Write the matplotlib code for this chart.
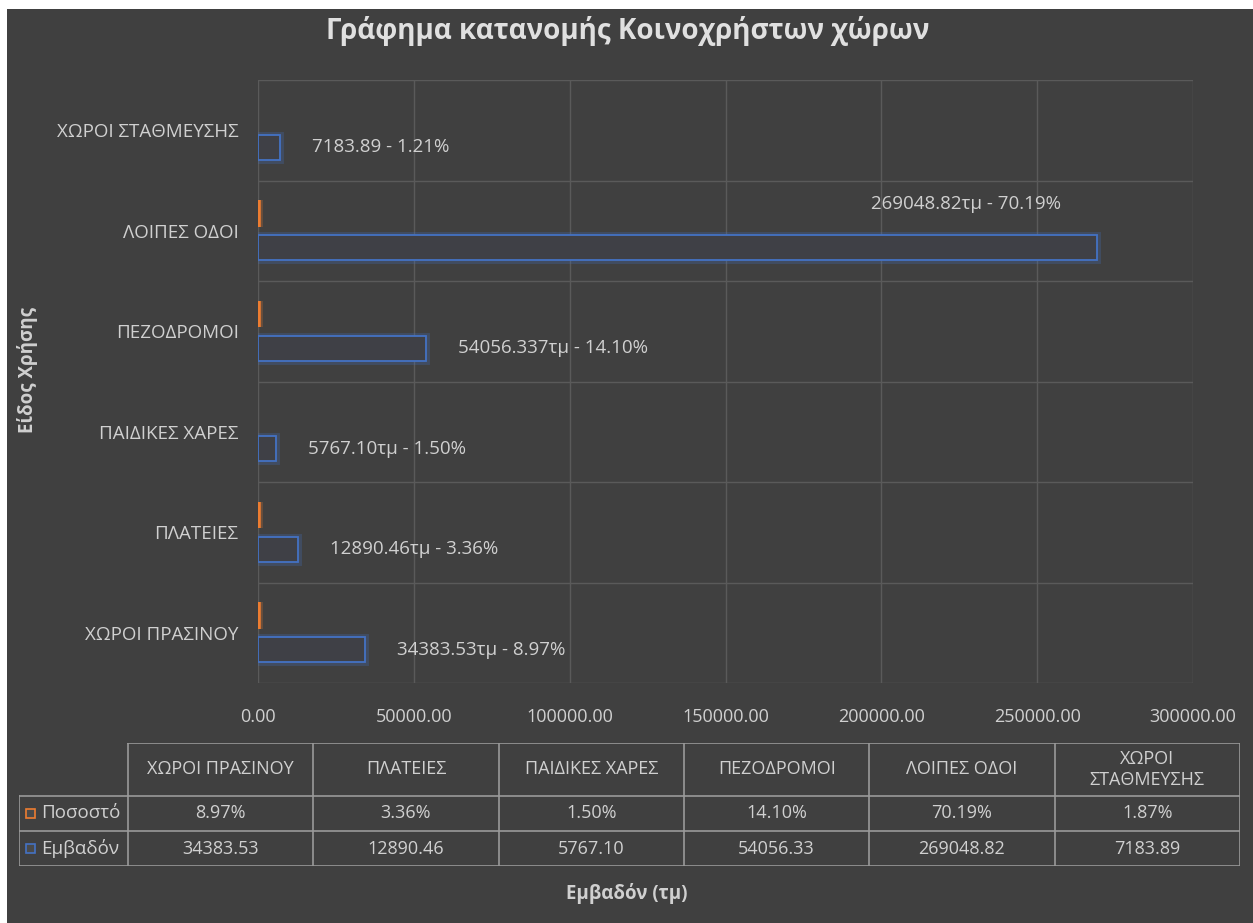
import textwrap
import matplotlib
matplotlib.use("Agg")
import matplotlib.pyplot as plt
import matplotlib.patheffects as pe
from matplotlib.patches import Rectangle

# data
categories = ["ΧΩΡΟΙ ΠΡΑΣΙΝΟΥ", "ΠΛΑΤΕΙΕΣ", "ΠΑΙΔΙΚΕΣ ΧΑΡΕΣ",
              "ΠΕΖΟΔΡΟΜΟΙ", "ΛΟΙΠΕΣ ΟΔΟΙ", "ΧΩΡΟΙ ΣΤΑΘΜΕΥΣΗΣ"]
area = [34383.53, 12890.46, 5767.10, 54056.33, 269048.82, 7183.89]
percent = [8.97, 3.36, 1.50, 14.10, 70.19, 1.87]
percent_shown = [True, True, False, True, True, False]   # bars missing in the original
bar_labels = ["34383.53τμ - 8.97%", "12890.46τμ - 3.36%", "5767.10τμ - 1.50%",
              "54056.337τμ - 14.10%", "269048.82τμ - 70.19%", "7183.89 - 1.21%"]
xticks = [0, 50000, 100000, 150000, 200000, 250000, 300000]
series_names = ["Ποσοστό", "Εμβαδόν"]

BG = "#404040"
ORANGE = "#ED7D31"
BLUE = "#4472C4"
TXT = "#d0d0d0"
TITLE = "#e0e0e0"
plt.rcParams["font.family"] = ["Open Sans", "DejaVu Sans"]

W, H = 1253, 923
fig = plt.figure(figsize=(W / 100, H / 100), dpi=100, facecolor="white")
fig.patches.append(Rectangle((7 / W, 0), 1 - 7 / W, 1 - 9 / H, transform=fig.transFigure,
                             facecolor=BG, edgecolor="none", zorder=-10))

ax = fig.add_axes([258 / W, 1 - 683 / H, (1193 - 258) / W, (683 - 80) / H])
ax.set_facecolor("none")
n = len(categories)
y = list(range(n))
h = 0.25
off = 0.17

glow_b = [pe.Stroke(linewidth=5, foreground=BLUE, alpha=0.25), pe.Normal()]
glow_o = [pe.Stroke(linewidth=7, foreground=ORANGE, alpha=0.25), pe.Normal()]

bars = ax.barh([v - off for v in y], area, height=h, facecolor="#3f4046",
               edgecolor=BLUE, linewidth=1.3, zorder=3)
for b in bars:
    b.set_path_effects(glow_b)

for i in range(n):
    if percent_shown[i]:
        ob = ax.barh(i + off, percent[i], height=h * 1.05, facecolor=ORANGE,
                     edgecolor=ORANGE, linewidth=4, zorder=3)
        ob[0].set_path_effects(glow_o)

for i in range(n):
    if area[i] == max(area):
        ax.annotate(bar_labels[i], (area[i], i + 0.27), xytext=(-36, 0),
                    textcoords="offset pixels", ha="right", va="center",
                    color=TXT, fontsize=13.5)
    else:
        ax.annotate(bar_labels[i], (area[i], i - off), xytext=(32, 0),
                    textcoords="offset pixels", ha="left", va="center",
                    color=TXT, fontsize=13.5)

ax.set_xlim(0, 300000)
ax.set_ylim(-0.5, n - 0.5)
ax.set_yticks(y)
ax.set_yticklabels(categories)
ax.set_yticks([v - 0.5 for v in range(n + 1)], minor=True)
ax.set_xticks(xticks)
ax.set_xticklabels(["%.2f" % t for t in xticks])
ax.tick_params(axis="x", length=0, pad=18, labelsize=13, colors=TXT)
ax.tick_params(axis="y", which="both", length=0, pad=14, labelsize=13.5, colors=TXT)
ax.grid(axis="x", color="#5a5a5a", linewidth=1, zorder=0)
ax.grid(axis="y", which="minor", color="#5a5a5a", linewidth=1, zorder=0)
for s in ax.spines.values():
    s.set_visible(False)

fig.text(628 / W, 1 - 31 / H, "Γράφημα κατανομής Κοινοχρήστων χώρων",
         ha="center", va="center", fontsize=20, fontweight="bold", color=TITLE)
fig.text(28 / W, 1 - 370 / H, "Είδος Χρήσης", ha="center", va="center",
         rotation=90, fontsize=13.5, fontweight="bold", color=TXT)
fig.text(627 / W, 1 - 893 / H, "Εμβαδόν (τμ)", ha="center", va="center",
         fontsize=13.5, fontweight="bold", color=TXT)

# data table below the chart
tx = fig.add_axes([19 / W, 1 - 866 / H, 1221 / W, 123 / H])
tx.set_xlim(0, 1221)
tx.set_ylim(123, 0)
tx.axis("off")
col_edges = [0, 109] + [109 + 185.33 * (k + 1) for k in range(n)]
row_edges = [0, 53, 88, 123]
LINE = "#9a9a9a"
for xe in col_edges:
    tx.plot([xe, xe], [53 if xe == 0 else 0, 123], color=LINE, lw=1.2)
for ye in row_edges:
    tx.plot([0 if ye > 0 else 109, 1221], [ye, ye], color=LINE, lw=1.2)

for k in range(n):
    cx = (col_edges[k + 1] + col_edges[k + 2]) / 2
    tx.text(cx, 26.5, textwrap.fill(categories[k], 15), ha="center", va="center",
            color=TXT, fontsize=13, linespacing=1.25)
    tx.text(cx, 70.5, "%.2f%%" % percent[k], ha="center", va="center",
            color=TXT, fontsize=13)
    tx.text(cx, 105.5, "%.2f" % area[k], ha="center", va="center",
            color=TXT, fontsize=13)

for r, (name, col) in enumerate(zip(series_names, [ORANGE, BLUE])):
    yc = (row_edges[r + 1] + row_edges[r + 2]) / 2
    tx.add_patch(Rectangle((7, yc - 4.5), 9, 9, facecolor="#4a4a4a", edgecolor=col, lw=1.2))
    tx.text(22, yc, name, ha="left", va="center", color=TXT, fontsize=13.5)

fig.savefig("out.png", dpi=100, facecolor=fig.get_facecolor())
